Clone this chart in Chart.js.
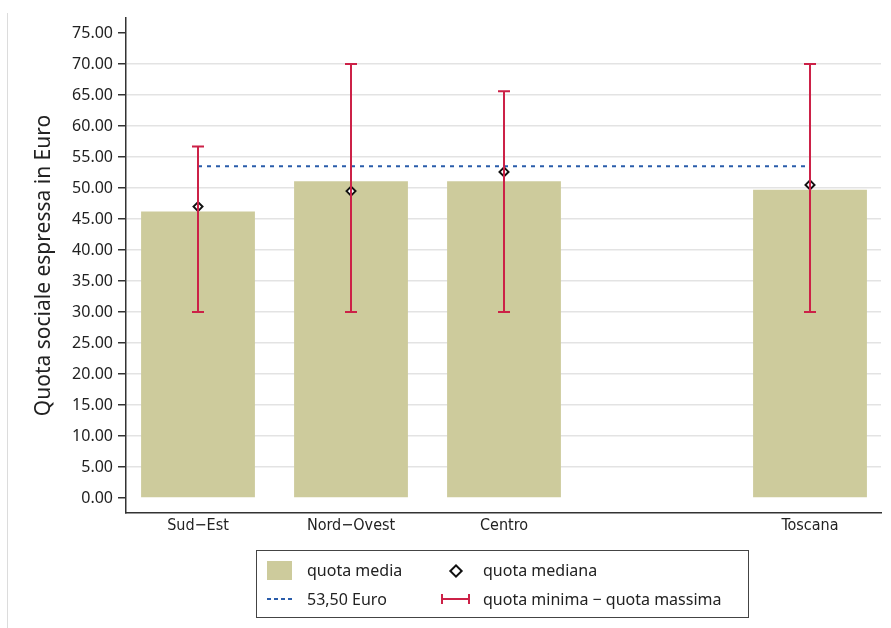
<!DOCTYPE html>
<html>
<head>
<meta charset="utf-8">
<script src="https://cdn.jsdelivr.net/npm/chart.js@4/dist/chart.umd.min.js"></script>
<style>
  body { margin: 0; background: #fff; }
  #wrap { position: relative; width: 891px; height: 628px; }
  #frame { position: absolute; left: 7px; top: 13px; bottom: 0; border-left: 1px solid #dcdcdc; }
  #legend { position: absolute; left: 256px; top: 550px; width: 491px; height: 66px;
            border: 1px solid #444; font: 16px "Noto Sans", sans-serif; color: #222; }
  #legend span { position: absolute; line-height: 22px; white-space: nowrap; }
  .sym { position: absolute; }
</style>
</head>
<body>
<div id="wrap">
  <div id="frame"></div>
  <canvas id="chart" width="891" height="628"></canvas>
  <div id="legend">
    <div class="sym" style="left:10px; top:10px; width:25px; height:19px; background:#cdcb9c;"></div>
    <span style="left:50px; top:8px;">quota media</span>
    <div class="sym" style="left:194px; top:15px; width:6px; height:6px; border:2px solid #111; background:#fff; transform:rotate(45deg);"></div>
    <span style="left:226px; top:8px;">quota mediana</span>
    <div class="sym" style="left:10px; top:47px; width:26px; height:2px; background:repeating-linear-gradient(90deg, #2a5caa 0 4px, transparent 4px 7px);"></div>
    <span style="left:50px; top:37px;">53,50 Euro</span>
    <div class="sym" style="left:184px; top:43px; width:25px; height:10px; border-left:2px solid #cc2147; border-right:2px solid #cc2147;"></div>
    <div class="sym" style="left:184px; top:47px; width:29px; height:2px; background:#cc2147;"></div>
    <span style="left:226px; top:37px;">quota minima − quota massima</span>
  </div>
</div>
<script>
// Quota sociale per area: media, mediana, minimo e massimo
const categories = ["Sud−Est", "Nord−Ovest", "Centro", "", "Toscana"];
const positions = [1, 2, 3, 4, 5];
const meanVals = [46.2, 51.1, 51.1, null, 49.7];
const medianVals = [47.0, 49.5, 52.6, null, 50.5];
const minVals = [30, 30, 30, null, 30];
const maxVals = [56.7, 70, 65.6, null, 70];
const refLine = 53.5;
const yTicks = [0, 5, 10, 15, 20, 25, 30, 35, 40, 45, 50, 55, 60, 65, 70, 75];

const RED = "#cc2147";

const toPoints = (vals) => positions.map((p, i) => ({ x: p, y: vals[i] }));

// Error bars drawn with the chart's own scales
const errorBars = {
  id: "errorBars",
  afterDatasetsDraw(chart) {
    const { ctx, scales: { x, y } } = chart;
    ctx.save();
    ctx.strokeStyle = RED;
    ctx.lineWidth = 2;
    positions.forEach((p, i) => {
      if (minVals[i] == null) return;
      const px = x.getPixelForValue(p);
      const top = y.getPixelForValue(maxVals[i]);
      const bot = y.getPixelForValue(minVals[i]);
      ctx.beginPath();
      ctx.moveTo(px, top);
      ctx.lineTo(px, bot);
      ctx.moveTo(px - 6, top);
      ctx.lineTo(px + 6, top);
      ctx.moveTo(px - 6, bot);
      ctx.lineTo(px + 6, bot);
      ctx.stroke();
    });
    ctx.restore();
  },
};

new Chart(document.getElementById("chart").getContext("2d"), {
  type: "bar",
  data: {
    datasets: [
      {
        type: "line",
        label: "quota mediana",
        data: toPoints(medianVals),
        showLine: false,
        pointStyle: "rectRot",
        pointRadius: 4.5,
        pointBorderWidth: 2,
        pointBorderColor: "#111",
        pointBackgroundColor: "#fff",
        order: 1,
      },
      {
        type: "line",
        label: "53,50 Euro",
        data: [{ x: 1, y: refLine }, { x: 5, y: refLine }],
        borderColor: "#2a5caa",
        borderWidth: 2,
        borderDash: [4, 5],
        pointRadius: 0,
        order: 2,
      },
      {
        label: "quota media",
        data: toPoints(meanVals),
        backgroundColor: "#cdcb9c",
        barPercentage: 0.93,
        categoryPercentage: 0.8,
        order: 3,
      },
    ],
  },
  options: {
    responsive: false,
    animation: false,
    layout: { padding: { top: 18, right: 10, bottom: 85, left: 0 } },
    plugins: {
      legend: { display: false },
      tooltip: { enabled: false },
    },
    scales: {
      x: {
        type: "linear",
        min: 0.5294,
        max: 5.464,
        offset: false,
        afterBuildTicks: (s) => { s.ticks = positions.map((v) => ({ value: v })); },
        afterFit: (s) => { s.height = 30; },
        ticks: {
          autoSkip: false,
          maxRotation: 0,
          padding: 3,
          callback: (v) => categories[positions.indexOf(v)],
          font: { family: "'Liberation Sans Narrow', 'DejaVu Sans Condensed', sans-serif", size: 16 },
          color: "#222",
        },
        grid: { display: false, drawTicks: false },
        border: { color: "#333", width: 1.5 },
      },
      y: {
        min: -2.42,
        max: 77.42,
        afterBuildTicks: (s) => { s.ticks = yTicks.map((v) => ({ value: v })); },
        afterFit: (s) => { s.width = 126; },
        ticks: {
          callback: (v) => v.toFixed(2),
          font: { family: "Noto Sans", size: 16 },
          color: "#222",
          padding: 5,
        },
        grid: {
          color: (c) => (c.tick && c.tick.value > 0 && c.tick.value < 75 ? "#e3e3e3" : "rgba(0,0,0,0)"),
          lineWidth: 1.5,
          tickColor: "#333",
          tickLength: 8,
        },
        border: { color: "#333", width: 1.5 },
        title: {
          display: true,
          text: "Quota sociale espressa in Euro",
          font: { family: "Noto Sans", size: 21 },
          color: "#222",
          padding: { top: 31, bottom: 0 },
        },
      },
    },
  },
  plugins: [errorBars],
});
</script>
</body>
</html>
